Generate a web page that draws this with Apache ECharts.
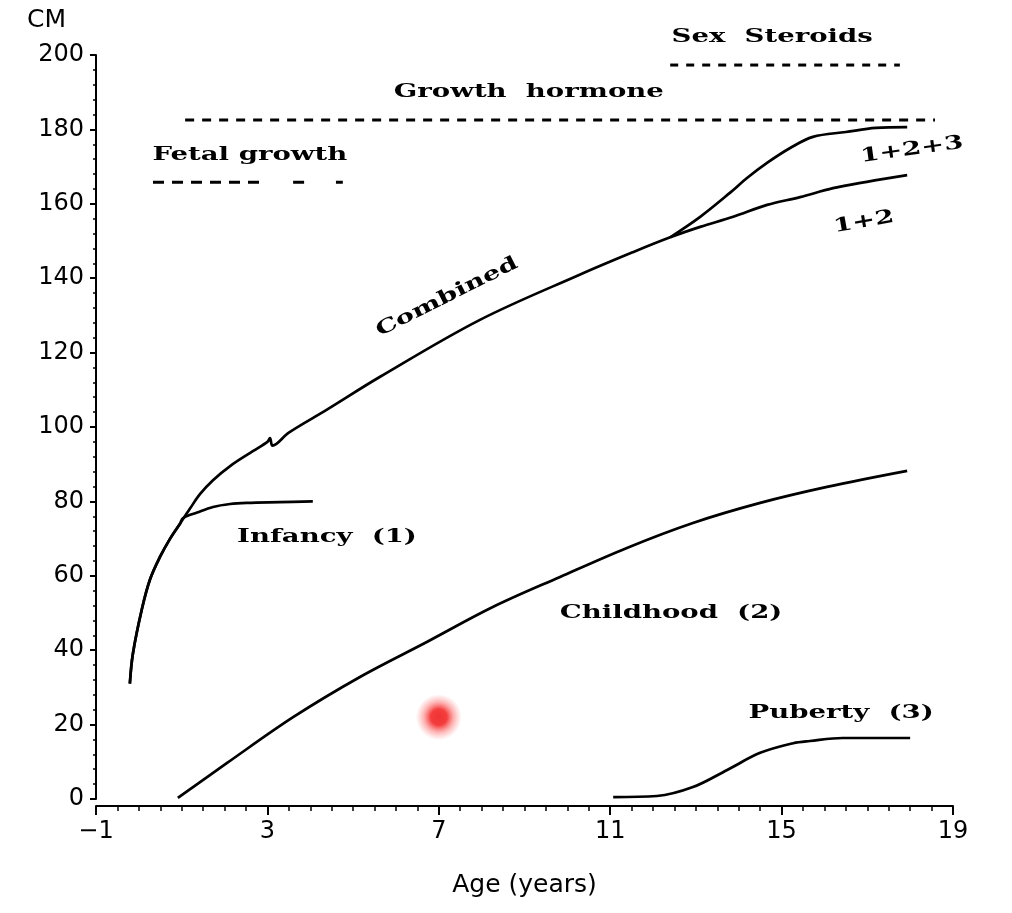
<!DOCTYPE html>
<html>
<head>
<meta charset="utf-8">
<script src="https://cdn.jsdelivr.net/npm/echarts@6/dist/echarts.min.js"></script>
<style>
  html, body { margin: 0; padding: 0; background: #fff; }
  #main { width: 1012px; height: 913px; }
</style>
</head>
<body>
<div id="main"></div>
<script>
// values: age in years, height in cm
var combinedAge = [-0.21, -0.14, 0.07, 0.26, 0.49, 0.73, 0.96, 1.19, 1.43, 1.73, 2.13, 2.66, 3.0, 3.06, 3.12, 3.5, 4.38, 5.63, 7.96, 10.3, 11.53, 12.4, 13.1, 13.87, 14.66, 15.43, 16.2, 16.99, 17.93];
var combinedCm  = [31, 39, 51, 59, 65, 70, 74, 78, 82, 85.7, 89.5, 93.5, 96, 97, 95, 98.5, 104.6, 113.5, 128.8, 141, 147, 151, 153.8, 156.5, 159.7, 161.8, 164.2, 165.9, 167.7];

var allAge = [12.4, 13.1, 13.8, 14.2, 14.66, 15.2, 15.73, 16.5, 17.2, 17.93];
var allCm  = [151, 156.5, 163, 167, 171, 175, 178, 179.3, 180.4, 180.6];

var infancyAge = [-0.21, -0.14, 0.07, 0.26, 0.49, 0.73, 0.96, 1.03, 1.36, 1.73, 2.13, 2.52, 3.29, 4.06];
var infancyCm  = [31, 39, 51, 59, 65, 70, 74, 75.5, 77, 78.5, 79.3, 79.6, 79.8, 80];

var childhoodAge = [0.91, 2.06, 3.6, 5.16, 6.72, 8.26, 9.83, 11.39, 12.93, 14.5, 16.06, 17.93];
var childhoodCm  = [0.3, 9.7, 22, 32.8, 42.2, 51.6, 59.7, 67.5, 74.2, 79.6, 83.9, 88.2];

var pubertyAge = [11.07, 12.09, 12.93, 13.73, 14.5, 15.27, 15.66, 16.43, 18.0];
var pubertyCm  = [0.5, 0.8, 3.2, 7.8, 12.4, 15, 15.6, 16.4, 16.4];

// hormone periods: [start age, end age], level
var fetalSpans  = [[0.33, 2.97], [3.6, 3.92], [4.6, 4.76]];
var fetalLevel  = 165.8;
var ghSpan      = [1.08, 18.58];
var ghLevel     = 182.5;
var sexSpan     = [12.4, 17.76];
var sexLevel    = 197.3;

var dotPoint = [7, 22];

// annotations: text, age, cm, angle (deg)
var noteText  = ['Fetal growth', 'Growth  hormone', 'Sex  Steroids', 'Infancy  (1)', 'Childhood  (2)', 'Puberty  (3)', 'Combined', '1+2+3', '1+2'];
var noteAge   = [2.59, 9.1, 14.78, 4.39, 12.42, 16.39, 7.19, 18.04, 16.92];
var noteCm    = [173.1, 190.1, 204.8, 70.4, 50.0, 23.1, 134.9, 174.5, 155.1];
var noteAngle = [0, 0, 0, 0, 0, 0, 26.6, 8, 10];

function pairs(xs, ys) {
    var out = [];
    for (var i = 0; i < xs.length; i++) out.push([xs[i], ys[i]]);
    return out;
}

var chart = echarts.init(document.getElementById('main'));

var curveStyle = { color: '#000', width: 2.7 };
var dashStyle = function (dash) {
    return { color: '#000', width: 3, type: dash };
};

var series = [
    { name: 'Combined', data: pairs(combinedAge, combinedCm) },
    { name: '1+2+3', data: pairs(allAge, allCm) },
    { name: 'Infancy', data: pairs(infancyAge, infancyCm) },
    { name: 'Childhood', data: pairs(childhoodAge, childhoodCm) },
    { name: 'Puberty', data: pairs(pubertyAge, pubertyCm) }
].map(function (s) {
    return {
        type: 'line', name: s.name, data: s.data, showSymbol: false,
        smooth: 0.35, lineStyle: curveStyle,
        silent: true, z: 3
    };
});

fetalSpans.forEach(function (sp) {
    series.push({
        type: 'line', showSymbol: false, silent: true,
        data: [[sp[0], fetalLevel], [sp[1], fetalLevel]],
        lineStyle: dashStyle([11, 8])
    });
});
series.push({
    type: 'line', showSymbol: false, silent: true,
    data: [[ghSpan[0], ghLevel], [ghSpan[1], ghLevel]],
    lineStyle: dashStyle([9, 8])
});
series.push({
    type: 'line', showSymbol: false, silent: true, clip: false,
    data: [[sexSpan[0], sexLevel], [sexSpan[1], sexLevel]],
    lineStyle: dashStyle([8, 8])
});
series.push({
    type: 'scatter', silent: true, symbolSize: 46,
    data: [dotPoint],
    itemStyle: {
        color: new echarts.graphic.RadialGradient(0.5, 0.5, 0.5, [
            { offset: 0, color: 'rgba(235,0,0,1)' },
            { offset: 0.35, color: 'rgba(240,0,0,0.95)' },
            { offset: 0.65, color: 'rgba(250,40,40,0.45)' },
            { offset: 1, color: 'rgba(255,80,80,0)' }
        ])
    }
});

chart.setOption({
    animation: false,
    backgroundColor: '#fff',
    grid: { left: 96, right: 59, top: 55, bottom: 114 },
    xAxis: {
        type: 'value', min: -1, max: 19, interval: 4, offset: 7,
        axisLine: { onZero: false, lineStyle: { color: '#000', width: 2 } },
        axisTick: { length: 9, lineStyle: { color: '#000', width: 2 } },
        minorTick: { show: true, splitNumber: 8, length: 5, lineStyle: { color: '#000', width: 1.5 } },
        splitLine: { show: false },
        axisLabel: {
            margin: 14, fontSize: 24, fontFamily: 'DejaVu Sans', color: '#000',
            formatter: function (v) { return v < 0 ? '\u2212' + Math.abs(v) : String(v); }
        },
        name: 'Age (years)', nameLocation: 'middle', nameGap: 67,
        nameTextStyle: { fontSize: 25, fontFamily: 'DejaVu Sans', color: '#000' }
    },
    yAxis: {
        type: 'value', min: 0, max: 200, interval: 20,
        axisLine: { show: true, onZero: false, lineStyle: { color: '#000', width: 2 } },
        axisTick: { show: true, length: 6, lineStyle: { color: '#000', width: 2 } },
        minorTick: { show: true, splitNumber: 5, length: 3, lineStyle: { color: '#000', width: 1.5 } },
        splitLine: { show: false },
        axisLabel: { margin: 12, fontSize: 24, fontFamily: 'DejaVu Sans', color: '#000' },
        name: 'CM', nameLocation: 'end', nameGap: 22,
        nameTextStyle: { fontSize: 25, fontFamily: 'DejaVu Sans', color: '#000', align: 'right', padding: [0, 30, 0, 0] }
    },
    series: series
});

// annotation texts placed in data coordinates, stretched like the scanned figure
var notes = noteText.map(function (t, i) {
    var p = chart.convertToPixel({ gridIndex: 0 }, [noteAge[i], noteCm[i]]);
    return {
        type: 'text', x: p[0], y: p[1], scaleX: 1.45,
        rotation: noteAngle[i] * Math.PI / 180, silent: true, z: 10,
        style: {
            text: t, x: 0, y: 0, align: 'center', verticalAlign: 'middle',
            font: 'bold 19px "DejaVu Serif"', fill: '#000'
        }
    };
});
chart.setOption({ graphic: notes });
</script>
</body>
</html>
